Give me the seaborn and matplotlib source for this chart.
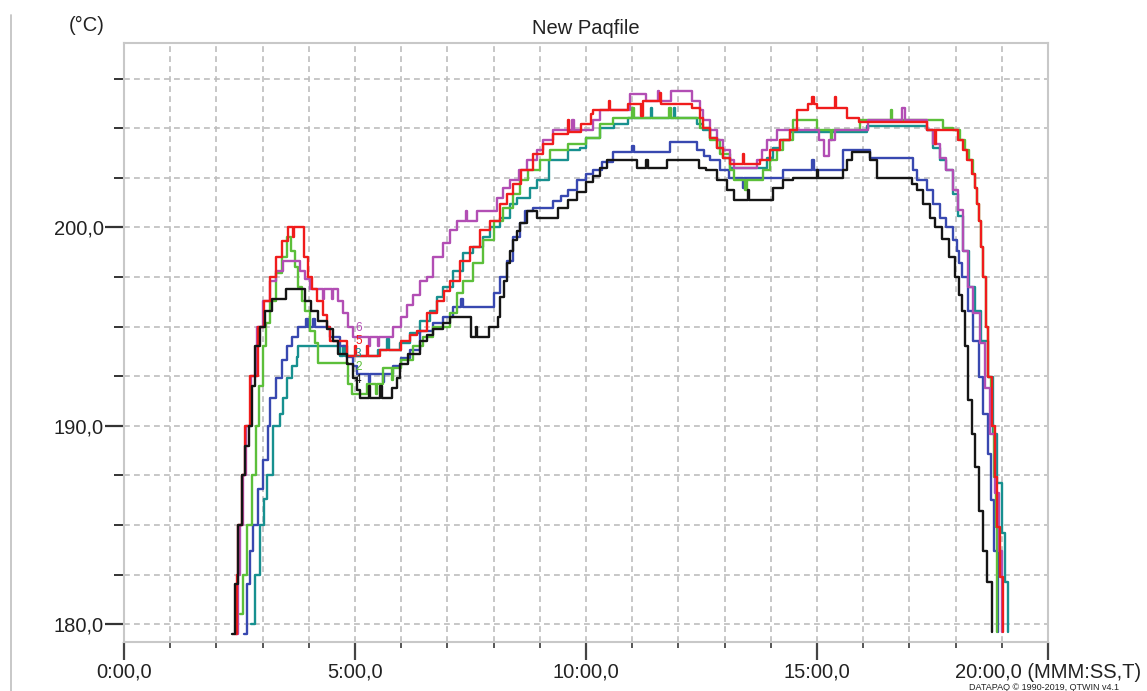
import numpy as np
import pandas as pd
import matplotlib
matplotlib.use("Agg")
import matplotlib.pyplot as plt
from matplotlib.lines import Line2D
from matplotlib.ticker import MultipleLocator, FixedLocator, FixedFormatter
import seaborn as sns

# ---- data (time in minutes, temperature in degC) ----
t_black = [2.34, 2.40, 2.47, 2.55, 2.62, 2.70, 2.76, 2.84, 2.94, 3.05, 3.20, 3.50, 3.92, 4.05, 4.20,
           4.39, 4.52, 4.63, 4.83, 4.96, 5.04, 5.10, 5.30, 5.33, 5.55, 5.58, 5.80, 5.90, 5.97, 6.15,
           6.40, 6.55, 6.69, 6.90, 7.06, 7.50, 7.62, 7.65, 7.90, 8.10, 8.14, 8.22, 8.29, 8.36, 8.42,
           8.50, 8.57, 8.72, 8.95, 9.40, 9.60, 9.80, 10.00, 10.15, 10.30, 10.45, 11.10, 11.30, 11.35,
           11.75, 12.45, 12.60, 12.84, 13.05, 13.20, 13.50, 13.53, 14.05, 14.26, 14.48, 15.00, 15.03,
           15.56, 15.65, 15.75, 16.15, 16.30, 17.05, 17.16, 17.30, 17.45, 17.55, 17.70, 17.85, 17.99,
           18.08, 18.14, 18.20, 18.27, 18.35, 18.42, 18.50, 18.60, 18.68, 18.79]
v_black = [179.5, 182.0, 185.0, 187.5, 189.0, 190.0, 192.0, 194.0, 195.0, 195.8, 196.4, 196.9, 196.3, 195.8, 195.3,
           194.9, 194.3, 193.6, 193.1, 192.4, 191.8, 191.4, 192.0, 191.4, 192.0, 191.4, 191.9, 192.4, 193.1, 193.6,
           194.3, 194.6, 194.9, 195.2, 195.5, 194.5, 195.0, 194.5, 195.0, 195.5, 196.5, 197.3, 198.2, 198.8, 199.35,
           199.8, 200.2, 200.85, 200.5, 201.0, 201.4, 201.8, 202.3, 202.6, 203.0, 203.4, 203.0, 203.4, 203.0,
           203.4, 203.0, 202.9, 202.4, 201.9, 201.4, 201.9, 201.4, 202.0, 202.4, 202.5, 202.9, 202.5,
           202.9, 203.4, 203.8, 203.4, 202.5, 202.2, 201.9, 201.2, 200.5, 200.0, 199.4, 198.5, 197.5,
           196.6, 195.8, 194.0, 191.3, 189.6, 187.9, 185.7, 183.7, 182.1, 179.6]

t_blue = [2.60, 2.66, 2.72, 2.80, 2.90, 3.00, 3.12, 3.16, 3.30, 3.42, 3.53, 3.64, 3.77, 3.95, 3.98, 4.10,
          4.13, 4.46, 4.68, 4.83, 4.96, 5.04, 5.30, 5.33, 5.60, 5.63, 5.82, 6.00, 6.19, 6.40, 6.69, 6.90,
          7.12, 7.30, 7.33, 8.00, 8.14, 8.29, 8.42, 8.57, 8.68, 8.85, 9.29, 9.45, 9.60, 9.80, 10.00, 10.15,
          10.35, 10.58, 11.00, 11.03, 11.82, 12.40, 12.55, 12.68, 12.90, 13.10, 13.40, 13.43, 14.26, 14.90,
          14.93, 15.56, 16.15, 17.08, 17.16, 17.38, 17.50, 17.66, 17.80, 17.95, 18.02, 18.08, 18.14, 18.27,
          18.38, 18.50, 18.60, 18.70, 18.77, 18.83, 18.92]
v_blue = [179.5, 182.0, 183.7, 185.0, 186.8, 188.3, 190.0, 191.4, 192.4, 193.3, 194.0, 194.5, 195.0, 195.4, 195.0, 195.4,
          195.0, 194.5, 194.0, 193.45, 193.0, 192.6, 192.2, 192.6, 192.2, 192.6, 193.0, 193.4, 193.8, 194.8, 195.2, 195.5,
          196.0, 196.4, 196.0, 196.7, 197.5, 198.3, 199.5, 200.2, 200.85, 201.0, 201.35, 201.6, 201.9, 202.4, 202.7, 202.9,
          203.3, 203.8, 204.1, 203.8, 204.3, 203.9, 203.6, 203.4, 202.9, 202.5, 202.0, 202.5, 202.9, 203.4,
          202.9, 203.9, 203.5, 202.9, 202.4, 201.9, 201.2, 200.5, 200.0, 199.35, 198.8, 198.2, 197.5, 195.8,
          194.3, 192.45, 190.6, 188.6, 186.25, 183.7, 179.6]

t_teal = [2.75, 2.84, 2.94, 3.02, 3.10, 3.23, 3.38, 3.45, 3.53, 3.64, 3.74, 3.77, 4.68, 4.75, 4.78, 5.50,
          5.70, 5.73, 5.97, 6.19, 6.40, 6.62, 6.77, 6.90, 7.12, 7.34, 7.55, 7.77, 7.92, 8.14, 8.35, 8.50,
          8.79, 8.94, 9.20, 9.60, 9.87, 10.00, 10.30, 10.60, 10.90, 11.40, 11.43, 11.90, 11.93, 12.40, 12.54,
          12.68, 12.84, 12.97, 13.12, 13.92, 14.05, 14.20, 14.42, 16.08, 17.38, 17.50, 17.66, 17.80, 17.95,
          18.05, 18.16, 18.30, 18.42, 18.56, 18.70, 18.81, 18.90, 19.00, 19.07, 19.13]
v_teal = [180.0, 182.5, 185.0, 186.3, 187.5, 190.0, 190.6, 191.4, 192.4, 193.0, 193.45, 194.0, 193.5, 194.0, 193.5, 193.8,
          194.4, 193.8, 194.2, 194.66, 195.3, 195.8, 196.5, 197.0, 197.8, 198.7, 199.0, 199.5, 200.0, 200.5, 201.2, 201.5,
          202.0, 202.4, 203.4, 203.9, 204.0, 204.5, 205.0, 205.2, 205.5, 206.0, 205.5, 206.0, 205.5, 205.2, 204.9,
          204.5, 204.0, 203.5, 203.0, 203.5, 204.0, 204.4, 204.8, 205.1, 204.9, 204.0, 203.4, 202.9, 201.7,
          200.6, 198.8, 197.0, 195.8, 194.3, 192.45, 189.6, 187.1, 184.6, 182.1, 179.6]

t_magenta = [2.42, 2.47, 2.52, 2.58, 2.64, 2.75, 2.88, 3.00, 3.16, 3.30, 3.45, 3.80, 3.92, 4.03, 4.30, 4.33,
             4.50, 4.53, 4.63, 4.74, 4.85, 4.96, 5.30, 5.33, 5.50, 5.53, 5.82, 6.00, 6.12, 6.25, 6.40, 6.55,
             6.69, 6.90, 7.06, 7.20, 7.40, 7.43, 7.64, 8.07, 8.20, 8.35, 8.55, 8.72, 8.94, 9.07, 9.29, 9.70,
             9.73, 10.15, 10.30, 10.95, 11.30, 11.55, 11.58, 11.85, 12.30, 12.47, 12.54, 12.68, 12.84, 12.97,
             13.12, 13.20, 13.70, 13.80, 13.92, 14.13, 15.05, 15.15, 15.25, 15.40, 16.10, 16.85, 16.90, 17.38,
             17.50, 17.66, 17.80, 17.95, 18.05, 18.16, 18.27, 18.38, 18.53, 18.64, 18.75, 18.86, 18.93, 19.00]
v_magenta = [179.5, 182.5, 185.0, 187.5, 190.0, 192.5, 195.0, 196.3, 197.3, 197.8, 198.3, 197.8, 197.4, 196.9, 196.4, 196.9,
             196.4, 196.9, 196.3, 195.7, 195.0, 194.5, 194.0, 194.5, 194.0, 194.5, 195.0, 195.5, 196.1, 196.6, 197.3, 197.5,
             198.5, 199.2, 199.85, 200.35, 200.85, 200.35, 200.85, 201.5, 202.0, 202.4, 202.9, 203.4, 203.9, 204.4, 204.9, 205.4,
             204.9, 205.4, 205.9, 206.75, 206.4, 206.9, 206.4, 206.9, 206.4, 205.9, 205.4, 204.9, 204.4, 203.9,
             203.4, 203.0, 203.4, 203.9, 204.4, 204.9, 204.4, 203.6, 204.4, 204.9, 205.4, 206.0, 205.4, 204.9,
             204.2, 203.5, 202.9, 201.9, 200.9, 198.8, 197.0, 195.7, 194.2, 191.9, 189.6, 186.6, 183.7, 179.6]

t_red = [2.40, 2.44, 2.47, 2.55, 2.62, 2.72, 2.90, 3.03, 3.16, 3.28, 3.42, 3.55, 3.65, 3.68, 3.90, 3.98,
         4.08, 4.18, 4.30, 4.39, 4.46, 4.83, 5.00, 5.03, 5.25, 5.28, 5.54, 6.00, 6.19, 6.34, 6.55, 6.77,
         6.92, 7.06, 7.27, 7.49, 7.70, 7.92, 8.14, 8.29, 8.42, 8.60, 8.85, 9.07, 9.29, 9.60, 9.63, 9.90,
         10.10, 10.15, 10.50, 10.53, 10.90, 11.20, 11.23, 11.60, 11.63, 12.30, 12.47, 12.54, 12.68, 12.84,
         12.97, 13.12, 13.40, 13.43, 13.77, 13.98, 14.20, 14.42, 14.56, 14.80, 14.90, 14.93, 15.00, 15.40,
         15.42, 15.65, 15.90, 17.38, 17.55, 17.58, 18.05, 18.15, 18.25, 18.35, 18.42, 18.47, 18.50, 18.56,
         18.60, 18.66, 18.70, 18.79, 18.86, 18.90, 18.96, 19.03]
v_red = [179.5, 182.5, 185.0, 187.5, 190.0, 192.5, 195.0, 196.3, 197.5, 198.5, 199.3, 200.0, 199.5, 200.0, 198.5, 197.5,
         196.9, 196.3, 195.6, 195.0, 194.3, 193.5, 194.0, 193.5, 194.0, 193.5, 193.8, 194.3, 194.6, 194.8, 195.7, 196.3,
         196.8, 197.3, 198.3, 199.0, 199.85, 200.35, 201.2, 201.7, 202.2, 202.9, 203.7, 204.2, 204.7, 205.4, 204.8, 205.2,
         205.7, 205.9, 206.4, 205.9, 206.2, 205.6, 206.4, 206.8, 206.2, 206.0, 205.5, 205.0, 204.5, 204.0,
         203.5, 203.2, 203.7, 203.2, 203.4, 203.9, 204.4, 204.9, 205.9, 206.2, 206.6, 206.2, 206.0, 206.6,
         206.0, 205.5, 205.3, 204.9, 204.2, 204.9, 204.4, 203.9, 203.4, 202.7, 202.0, 201.2, 200.35, 199.0,
         197.5, 195.0, 192.45, 190.0, 187.4, 184.9, 182.4, 179.6]

t_green = [2.51, 2.58, 2.66, 2.77, 2.86, 2.93, 3.00, 3.08, 3.16, 3.30, 3.42, 3.53, 3.62, 3.70, 3.77, 3.85,
           3.92, 4.03, 4.14, 4.20, 4.85, 4.93, 5.26, 5.45, 5.48, 5.60, 5.80, 5.83, 6.00, 6.25, 6.48, 6.69,
           7.06, 7.20, 7.34, 7.55, 7.77, 8.00, 8.20, 8.42, 8.57, 8.75, 9.00, 9.22, 9.60, 10.00, 10.30, 10.58,
           11.00, 11.03, 11.80, 11.83, 12.47, 12.68, 12.90, 13.12, 13.20, 13.45, 13.48, 13.84, 13.98, 14.13,
           14.27, 14.48, 15.00, 15.30, 15.33, 15.93, 16.60, 16.63, 17.73, 17.95, 18.10, 18.20, 18.30, 18.38,
           18.42, 18.47, 18.50, 18.56, 18.60, 18.66, 18.70, 18.77, 18.83, 18.87, 18.90]
v_green = [180.5, 182.5, 185.0, 187.5, 190.0, 192.0, 194.0, 195.2, 196.3, 197.7, 198.5, 199.5, 198.8, 198.0, 197.0, 196.3,
           195.8, 194.8, 194.2, 193.15, 192.1, 191.6, 192.1, 191.6, 192.1, 192.9, 192.3, 192.9, 193.3, 194.0, 194.5, 195.0,
           195.7, 196.7, 197.3, 198.2, 199.35, 200.35, 201.0, 201.7, 202.4, 202.9, 203.4, 203.9, 204.2, 204.5, 205.2, 205.5,
           206.0, 205.5, 206.0, 205.5, 205.0, 204.4, 203.7, 202.9, 202.4, 201.9, 202.4, 202.9, 203.4, 203.9,
           204.4, 205.4, 204.9, 204.4, 204.9, 205.4, 205.9, 205.4, 205.0, 204.9, 204.4, 203.9, 203.4, 202.7,
           202.0, 201.2, 200.35, 199.0, 197.5, 195.0, 192.45, 190.0, 187.4, 184.9, 179.6]

probe_colors = {
    "3": "#17908f",
    "1": "#3848b0",
    "2": "#5cbf3a",
    "6": "#b24eb4",
    "5": "#f01c1c",
    "4": "#151515",
}

# probe labels placed next to the curves around 5:00
label_names = ["6", "5", "3", "2", "4"]
label_temps = [194.95, 194.29, 193.63, 192.96, 192.3]

series = {"3": (t_teal, v_teal), "1": (t_blue, v_blue), "2": (t_green, v_green),
          "6": (t_magenta, v_magenta), "5": (t_red, v_red), "4": (t_black, v_black)}

rows = []
for probe, (tt, vv) in series.items():
    for a, b in zip(tt, vv):
        rows.append((probe, a, b))
df = pd.DataFrame(rows, columns=["probe", "time", "temp"])

sns.set_style("white")
plt.rcParams["font.family"] = ["Liberation Sans", "DejaVu Sans"]

W, H = 1147, 691
PT = 72 / 100  # pixels -> points
fig = plt.figure(figsize=(W / 100, H / 100), dpi=100)
ax = fig.add_axes([124 / W, 1 - 642 / H, 924 / W, 599 / H])

sns.lineplot(data=df, x="time", y="temp", hue="probe", hue_order=list(series.keys()),
             palette=probe_colors, estimator=None, sort=False, legend=False,
             drawstyle="steps-post", linewidth=1.7, ax=ax)

ax.set_xlim(0, 20)
ax.set_ylim(179.1, 209.3)

# grid: every minute / every 2.5 degC, dashed light grey
ax.xaxis.set_major_locator(FixedLocator([0, 5, 10, 15, 20]))
ax.xaxis.set_major_formatter(FixedFormatter(["0:00,0", "5:00,0", "10:00,0", "15:00,0",
                                             "20:00,0 (MMM:SS,T)"]))
ax.xaxis.set_minor_locator(MultipleLocator(1))
ax.yaxis.set_major_locator(FixedLocator([180, 190, 200]))
ax.yaxis.set_major_formatter(FixedFormatter(["180,0", "190,0", "200,0"]))
ax.yaxis.set_minor_locator(MultipleLocator(2.5))
ax.grid(True, which="both", color="#bdbdbd", linestyle=(0, (3.5, 2.5)), linewidth=1.2)
ax.set_axisbelow(True)

for s in ax.spines.values():
    s.set_color("#c8c8c8")
    s.set_linewidth(1.5)

ax.tick_params(which="both", bottom=True, left=True, top=False, right=False, direction="out")
ax.tick_params(axis="y", which="major", length=19 * PT, width=1.6, color="#333333",
               labelsize=14.5, pad=1 * PT, labelcolor="#222222")
ax.tick_params(axis="y", which="minor", length=10 * PT, width=1.4, color="#333333")
ax.tick_params(axis="x", which="major", length=18 * PT, width=1.6, color="#444444",
               labelsize=14.5, pad=3 * PT, labelcolor="#222222")
ax.tick_params(axis="x", which="minor", length=6 * PT, width=1.4, color="#555555")
ax.set_xlabel("")
ax.set_ylabel("")

for name, temp in zip(label_names, label_temps):
    ax.text(5.0, temp, name, color=probe_colors[name], fontsize=8.5,
            ha="left", va="center")

fig.text(586 / W, 1 - 28 / H, "New Paqfile", ha="center", va="center",
         fontsize=14.5, color="#222222")
fig.text(87 / W, 1 - 25 / H, "(°C)", ha="center", va="center",
         fontsize=14.5, color="#222222")
fig.text(969 / W, 1 - 687 / H, "DATAPAQ © 1990-2019, QTWIN v4.1", ha="left",
         va="center", fontsize=6.5, color="#222222")
fig.add_artist(Line2D([11 / W, 11 / W], [0, 1 - 15 / H], color="#c4c4c4",
                      linewidth=1.3, transform=fig.transFigure))

fig.savefig("out.png", dpi=100)
